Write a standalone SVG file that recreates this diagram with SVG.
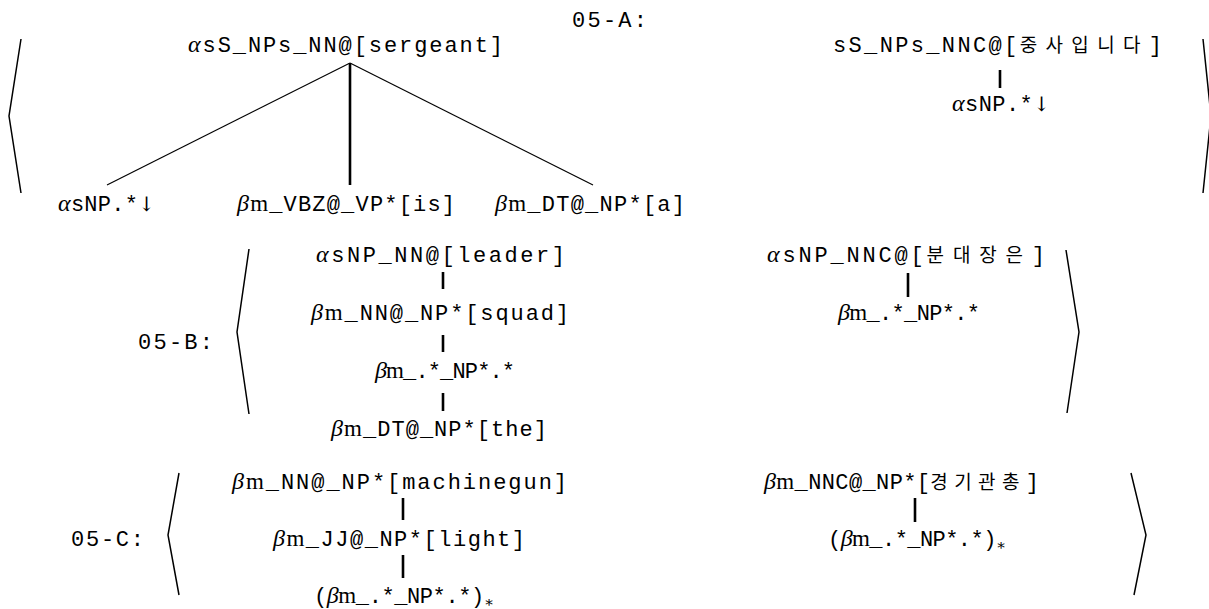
<svg xmlns="http://www.w3.org/2000/svg" width="1209" height="609" viewBox="0 0 1209 609">
  <style>
    text { font-family: "Liberation Mono", monospace; font-size: 22px; fill: #000; }
    .g { font-family: "Liberation Serif", serif; font-style: italic; font-size: 24px; }
    .r { font-family: "Liberation Serif", serif; font-size: 23px; }
    .arr { font-family: "DejaVu Serif", serif; font-size: 20px; font-variant-emoji: text; }
    .k { font-family: "Noto Sans CJK KR", sans-serif; font-size: 19px; letter-spacing: 6px; }
    .sub { font-family: "DejaVu Serif", serif; font-size: 15px; }
    .thin { stroke: #000; stroke-width: 1.2; fill: none; }
    .bold { stroke: #000; stroke-width: 2.6; fill: none; }
    .brk { stroke: #000; stroke-width: 1.5; fill: none; }
  </style>

  <!-- section labels -->
  <g id="labels">
    <text x="572" y="27" textLength="75" lengthAdjust="spacing">05-A:</text>
    <text x="138" y="349" textLength="75" lengthAdjust="spacing">05-B:</text>
    <text x="71" y="546" textLength="73" lengthAdjust="spacing">05-C:</text>
  </g>

  <!-- angle brackets enclosing each pair -->
  <g id="brackets">
    <polyline class="brk" points="21,39 9,116 21,193"/>
    <polyline class="brk" points="1203,39 1211,116 1203,193"/>
    <polyline class="brk" points="249,249 237,332 249,414"/>
    <polyline class="brk" points="1066,250 1079,332 1067,413"/>
    <polyline class="brk" points="179,473 168,535 179,595"/>
    <polyline class="brk" points="1131,473 1146,535 1134,595"/>
  </g>

  <!-- connectors -->
  <g id="connectors">
    <line class="thin" x1="350" y1="63" x2="107" y2="185"/>
    <line class="bold" x1="350" y1="63" x2="350" y2="185"/>
    <line class="thin" x1="350" y1="63" x2="593" y2="185"/>
    <line class="bold" x1="1000" y1="70" x2="1000" y2="88"/>

    <line class="bold" x1="443" y1="272" x2="443" y2="289"/>
    <line class="bold" x1="443" y1="335" x2="443" y2="352"/>
    <line class="bold" x1="443" y1="393" x2="443" y2="411"/>
    <line class="bold" x1="908" y1="273" x2="908" y2="297"/>

    <line class="bold" x1="403" y1="498" x2="403" y2="520"/>
    <line class="bold" x1="403" y1="555" x2="403" y2="578"/>
    <line class="bold" x1="915" y1="498" x2="915" y2="522" stroke-width="3"/>
  </g>

  <!-- 05-A -->
  <g id="a-root">
    <text x="188" y="52" textLength="315" lengthAdjust="spacing"><tspan class="g">α</tspan>sS_NPs_NN@[sergeant]</text>
  </g>
  <g id="a-np">
    <text x="58" y="211" textLength="97" lengthAdjust="spacing"><tspan class="g">α</tspan>sNP.*<tspan class="arr">↓</tspan></text>
  </g>
  <g id="a-vbz">
    <text x="237" y="211" textLength="218" lengthAdjust="spacing"><tspan class="g">β</tspan><tspan class="r">m</tspan>_VBZ@_VP*[is]</text>
  </g>
  <g id="a-dt">
    <text x="495" y="211" textLength="190" lengthAdjust="spacing"><tspan class="g">β</tspan><tspan class="r">m</tspan>_DT@_NP*[a]</text>
  </g>
  <g id="a-kroot">
    <text x="833" y="52" textLength="329" lengthAdjust="spacing">sS_NPs_NNC@[<tspan class="k">중사입니다</tspan>]</text>
  </g>
  <g id="a-knp">
    <text x="952" y="111" textLength="98" lengthAdjust="spacing"><tspan class="g">α</tspan>sNP.*<tspan class="arr">↓</tspan></text>
  </g>

  <!-- 05-B -->
  <g id="b-leader">
    <text x="316" y="262" textLength="249" lengthAdjust="spacing"><tspan class="g">α</tspan>sNP_NN@[leader]</text>
  </g>
  <g id="b-squad">
    <text x="311" y="320" textLength="258" lengthAdjust="spacing"><tspan class="g">β</tspan><tspan class="r">m</tspan>_NN@_NP*[squad]</text>
  </g>
  <g id="b-any">
    <text x="375" y="378" textLength="140" lengthAdjust="spacing"><tspan class="g">β</tspan><tspan class="r">m</tspan>_.*_NP*.*</text>
  </g>
  <g id="b-the">
    <text x="331" y="436" textLength="216" lengthAdjust="spacing"><tspan class="g">β</tspan><tspan class="r">m</tspan>_DT@_NP*[the]</text>
  </g>
  <g id="b-kleader">
    <text x="767" y="262" textLength="278" lengthAdjust="spacing"><tspan class="g">α</tspan>sNP_NNC@[<tspan class="k">분대장은</tspan>]</text>
  </g>
  <g id="b-kany">
    <text x="838" y="320" textLength="142" lengthAdjust="spacing"><tspan class="g">β</tspan><tspan class="r">m</tspan>_.*_NP*.*</text>
  </g>

  <!-- 05-C -->
  <g id="c-gun">
    <text x="232" y="489" textLength="335" lengthAdjust="spacing"><tspan class="g">β</tspan><tspan class="r">m</tspan>_NN@_NP*[machinegun]</text>
  </g>
  <g id="c-light">
    <text x="273" y="546" textLength="252" lengthAdjust="spacing"><tspan class="g">β</tspan><tspan class="r">m</tspan>_JJ@_NP*[light]</text>
  </g>
  <g id="c-star">
    <text x="314" y="603" textLength="180" lengthAdjust="spacing">(<tspan class="g">β</tspan><tspan class="r">m</tspan>_.*_NP*.*)<tspan class="sub" dy="4">∗</tspan></text>
  </g>
  <g id="c-kgun">
    <text x="764" y="489" textLength="275" lengthAdjust="spacing"><tspan class="g">β</tspan><tspan class="r">m</tspan>_NNC@_NP*[<tspan class="k">경기관총</tspan>]</text>
  </g>
  <g id="c-kstar">
    <text x="828" y="546" textLength="178" lengthAdjust="spacing">(<tspan class="g">β</tspan><tspan class="r">m</tspan>_.*_NP*.*)<tspan class="sub" dy="4">∗</tspan></text>
  </g>
</svg>
